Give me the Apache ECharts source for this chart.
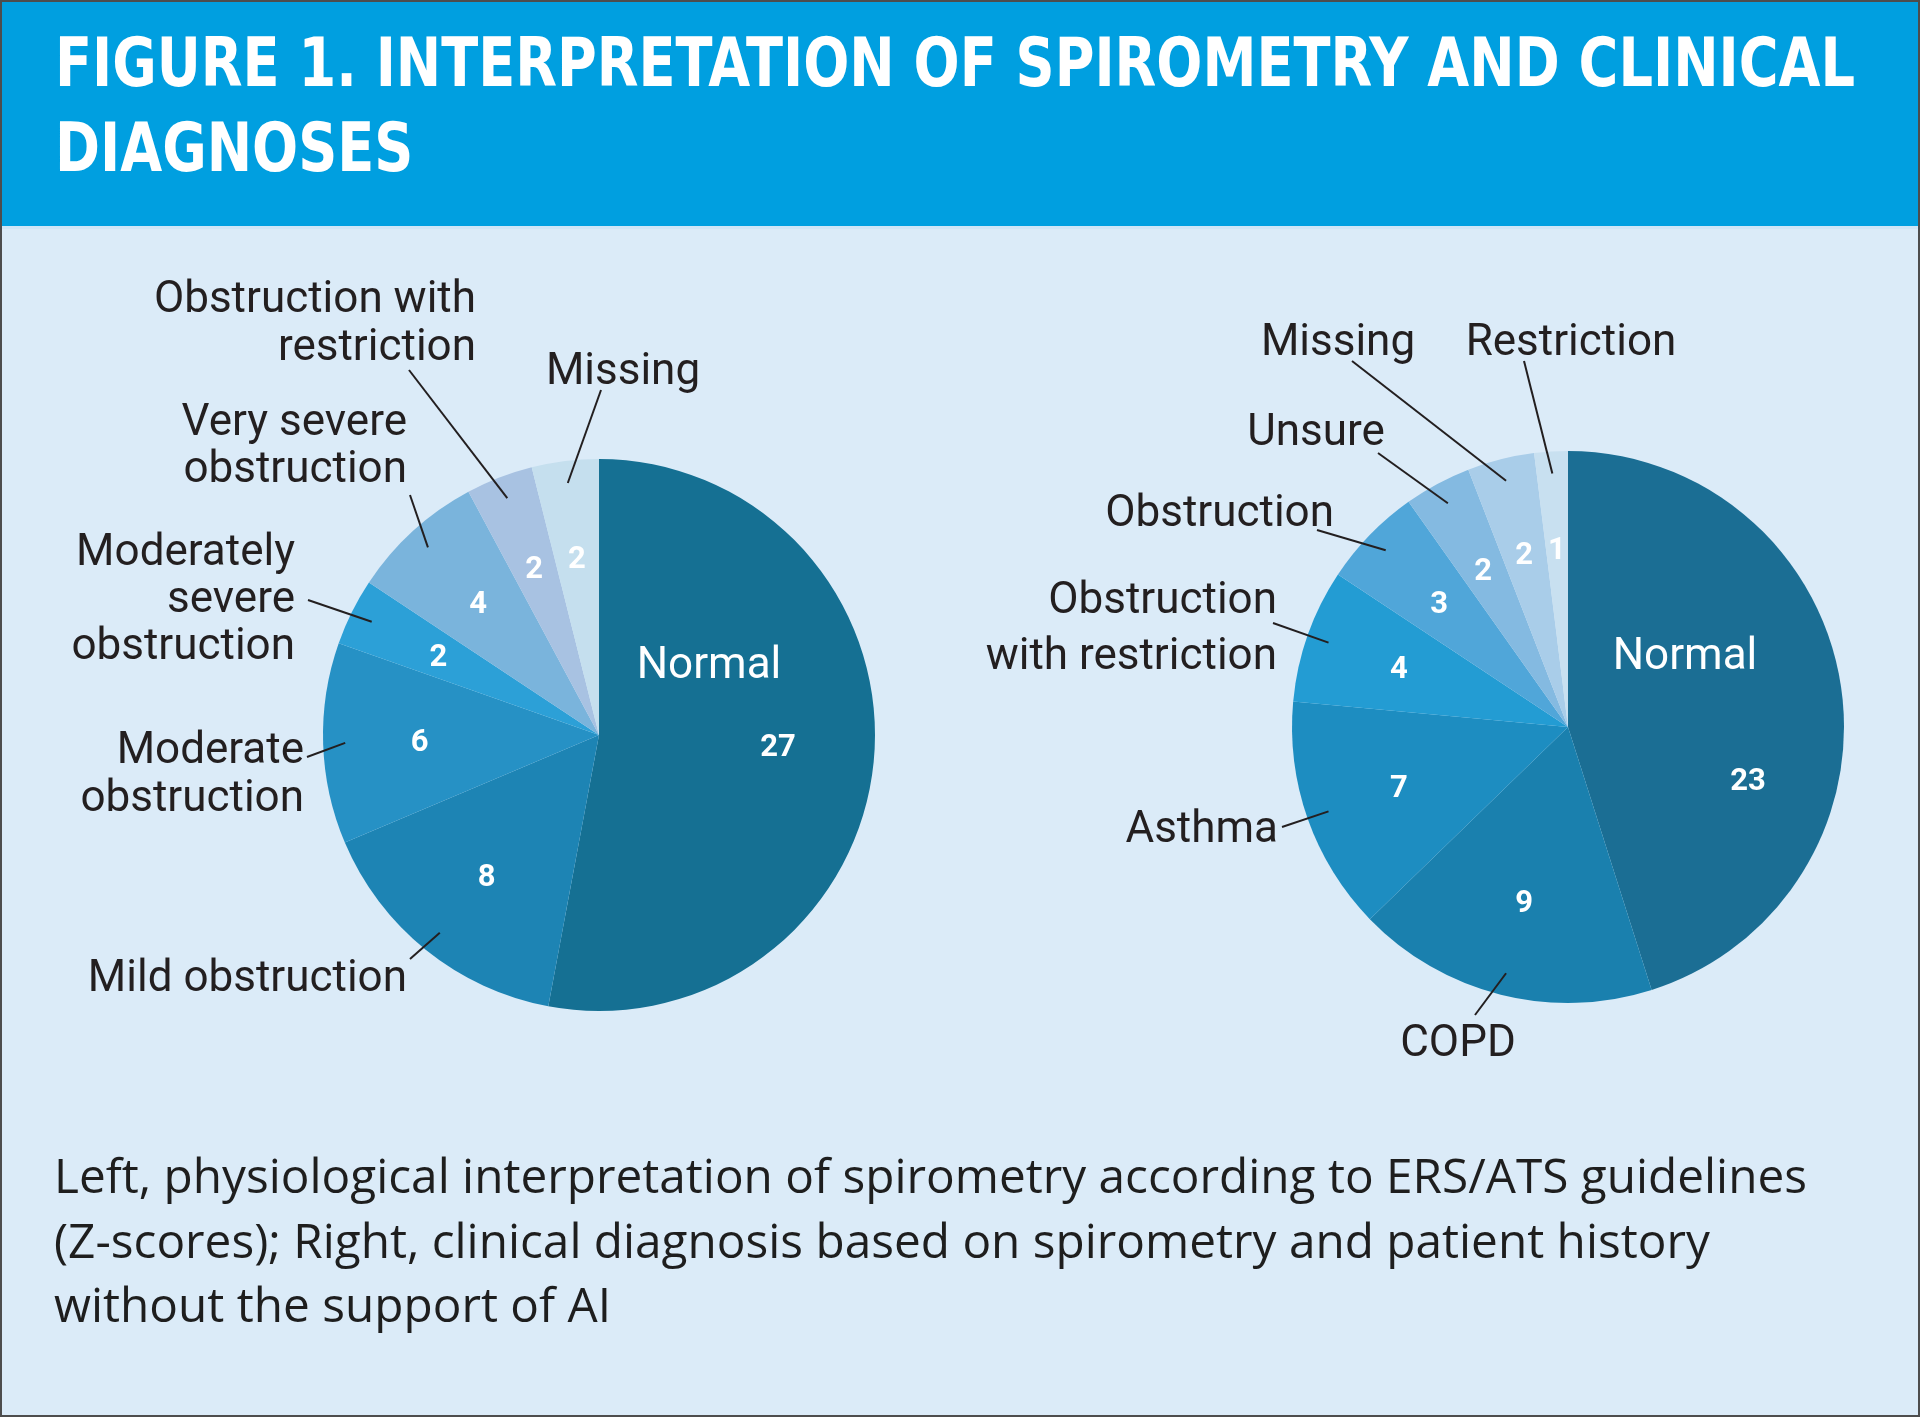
<!DOCTYPE html>
<html>
<head>
<meta charset="utf-8">
<title>Figure 1</title>
<script src="https://cdn.jsdelivr.net/npm/echarts@6/dist/echarts.min.js"></script>
<style>
  html, body { margin: 0; padding: 0; background: #dbebf8; }
  #chart { width: 1920px; height: 1417px; }
</style>
</head>
<body>
<div id="chart"></div>
<script>
// Left pie: physiological interpretation of spirometry (ERS/ATS, Z-scores)
const spiroCategories = ['Normal', 'Mild obstruction', 'Moderate\nobstruction', 'Moderately\nsevere\nobstruction',
  'Very severe\nobstruction', 'Obstruction with\nrestriction', 'Missing'];
const spiroValues = [27, 8, 6, 2, 4, 2, 2];

// Right pie: clinical diagnosis without AI support
const diagCategories = ['Normal', 'COPD', 'Asthma', 'Obstruction\nwith restriction', 'Obstruction',
  'Unsure', 'Missing', 'Restriction'];
const diagValues = [23, 9, 7, 4, 3, 2, 2, 1];

const titleLines = ['FIGURE 1. INTERPRETATION OF SPIROMETRY AND CLINICAL', 'DIAGNOSES'];
const captionLines = [
  'Left, physiological interpretation of spirometry according to ERS/ATS guidelines',
  '(Z-scores); Right, clinical diagnosis based on spirometry and patient history',
  'without the support of AI'
];

const spiroColors = ['#157093', '#1d84b4', '#2691c5', '#2ca0d7', '#7ab4dc', '#a8c2e2', '#c5dfee'];
const diagColors = ['#1b6e94', '#1a80ae', '#1d8dc1', '#239cd3', '#50a6d9', '#84bae1', '#a9cde9', '#c8e0f0'];

const PIE_R = 276;
const TEXT = '#231f20';

// label placement, offsets relative to the pie centre
const leftLayout = [
  { at: [110, -68], align: 'center', inside: true, valueAt: [179, 13] },
  { at: [-192, 245], align: 'right', line: [-189, 224] },
  { at: [-295, 41], align: 'right', line: [-292, 22], lh: 48 },
  { at: [-304, -134], align: 'right', line: [-291, -135], lh: 47 },
  { at: [-192, -288], align: 'right', line: [-189, -240], lh: 47 },
  { at: [-123, -410], align: 'right', line: [-190, -365], lh: 48 },
  { at: [24, -362], align: 'center', line: [2, -345] }
];
const rightLayout = [
  { at: [117, -69], align: 'center', inside: true, valueAt: [180, 55] },
  { at: [-110, 318], align: 'center', line: [-93, 288] },
  { at: [-290, 104], align: 'right', line: [-286, 100] },
  { at: [-291, -97], align: 'right', line: [-295, -104], lh: 56 },
  { at: [-234, -212], align: 'right', line: [-251, -197] },
  { at: [-252, -293], align: 'center', line: [-190, -274] },
  { at: [-230, -383], align: 'center', line: [-216, -366] },
  { at: [3, -383], align: 'center', line: [-44, -366] }
];

function midAngles(values) {
  const total = values.reduce((a, b) => a + b, 0);
  let acc = 0;
  return values.map((v) => {
    const a = (acc + v / 2) / total * 2 * Math.PI;
    acc += v;
    return a;
  });
}

function buildPie(categories, values, colors, layout, center) {
  const [cx, cy] = center;
  const mids = midAngles(values);
  const polar = (a, r) => [cx + r * Math.sin(a), cy - r * Math.cos(a)];

  const sectors = {
    type: 'pie',
    center: center,
    radius: PIE_R,
    startAngle: 90,
    clockwise: true,
    silent: true,
    animation: false,
    avoidLabelOverlap: false,
    emphasis: { disabled: true },
    z: 2,
    itemStyle: { borderWidth: 0 },
    data: values.map((v, i) => ({ name: categories[i], value: v, itemStyle: { color: colors[i] } })),
    label: {
      show: true,
      position: 'inside',
      formatter: '{c}',
      color: '#fff',
      fontFamily: 'Roboto',
      fontWeight: 'bold',
      fontSize: 31
    },
    labelLine: { show: false },
    labelLayout: (p) => {
      const off = layout[p.dataIndex].valueAt;
      const pt = off ? [cx + off[0], cy + off[1]] : polar(mids[p.dataIndex], PIE_R * 0.65);
      return { x: pt[0], y: pt[1] + (off ? 0 : 3), align: 'center', verticalAlign: 'middle' };
    }
  };

  // transparent copy that carries the category names and leader lines
  const names = {
    type: 'pie',
    center: center,
    radius: PIE_R,
    startAngle: 90,
    clockwise: true,
    silent: true,
    animation: false,
    avoidLabelOverlap: false,
    emphasis: { disabled: true },
    z: 3,
    itemStyle: { color: 'rgba(0,0,0,0)', borderWidth: 0 },
    data: values.map((v, i) => {
      const L = layout[i];
      return {
        name: categories[i],
        value: v,
        label: L.inside ? { color: '#fff' } : { lineHeight: L.lh || 47 },
        labelLine: { show: !L.inside }
      };
    }),
    label: {
      show: true,
      position: 'outside',
      formatter: '{b}',
      color: TEXT,
      fontFamily: 'Roboto',
      fontSize: 44,
      lineHeight: 47
    },
    labelLine: { show: true, lineStyle: { color: TEXT, width: 2 } },
    labelLayout: (p) => {
      const L = layout[p.dataIndex];
      const out = { x: cx + L.at[0], y: cy + L.at[1], align: L.align, verticalAlign: 'middle' };
      if (L.line) {
        const tip = polar(mids[p.dataIndex], PIE_R * 0.92);
        const s = [cx + L.line[0], cy + L.line[1]];
        out.labelLinePoints = [s, s, tip];
      }
      return out;
    }
  };
  return [sectors, names];
}

// squeeze text horizontally to the width it takes in the figure
const measureCtx = document.createElement('canvas').getContext('2d');
function fitScale(text, font, width) {
  measureCtx.font = font;
  return width / measureCtx.measureText(text).width;
}

const titleFont = 'bold 67px "DejaVu Sans"';
const titleScale = fitScale(titleLines[0], titleFont, 1800);
const captionFont = '48px "Open Sans"';
const captionScale = fitScale(captionLines[0], captionFont, 1753);

const graphic = [
  { type: 'rect', z: 0, shape: { x: 0, y: 0, width: 1920, height: 226 }, style: { fill: '#009fe0' } },
  { type: 'rect', z: 0, shape: { x: 0, y: 226, width: 1920, height: 3 }, style: { fill: '#cfe6f7' } }
];
titleLines.forEach((t, i) => {
  graphic.push({
    type: 'text', z: 5, x: 55, y: [69, 154][i], scaleX: titleScale,
    style: { text: t, font: titleFont, fill: '#fff', align: 'left', verticalAlign: 'middle',
      textAlign: 'left', textVerticalAlign: 'middle' }
  });
});
captionLines.forEach((t, i) => {
  graphic.push({
    type: 'text', z: 5, x: 54, y: [1179, 1244, 1308][i], scaleX: captionScale,
    style: { text: t, font: captionFont, fill: '#1e1e1e', align: 'left', verticalAlign: 'middle',
      textAlign: 'left', textVerticalAlign: 'middle' }
  });
});
graphic.push({
  type: 'rect', z: 100, shape: { x: 1, y: 1, width: 1918, height: 1415 },
  style: { fill: 'none', stroke: '#4d4d4d', lineWidth: 2 }
});

const chart = echarts.init(document.getElementById('chart'), null, { renderer: 'canvas' });
chart.setOption({
  backgroundColor: '#dbebf8',
  animation: false,
  graphic: graphic,
  series: [
    ...buildPie(spiroCategories, spiroValues, spiroColors, leftLayout, [599, 735]),
    ...buildPie(diagCategories, diagValues, diagColors, rightLayout, [1568, 727])
  ]
});

window.addEventListener('resize', () => chart.resize());
</script>
</body>
</html>
